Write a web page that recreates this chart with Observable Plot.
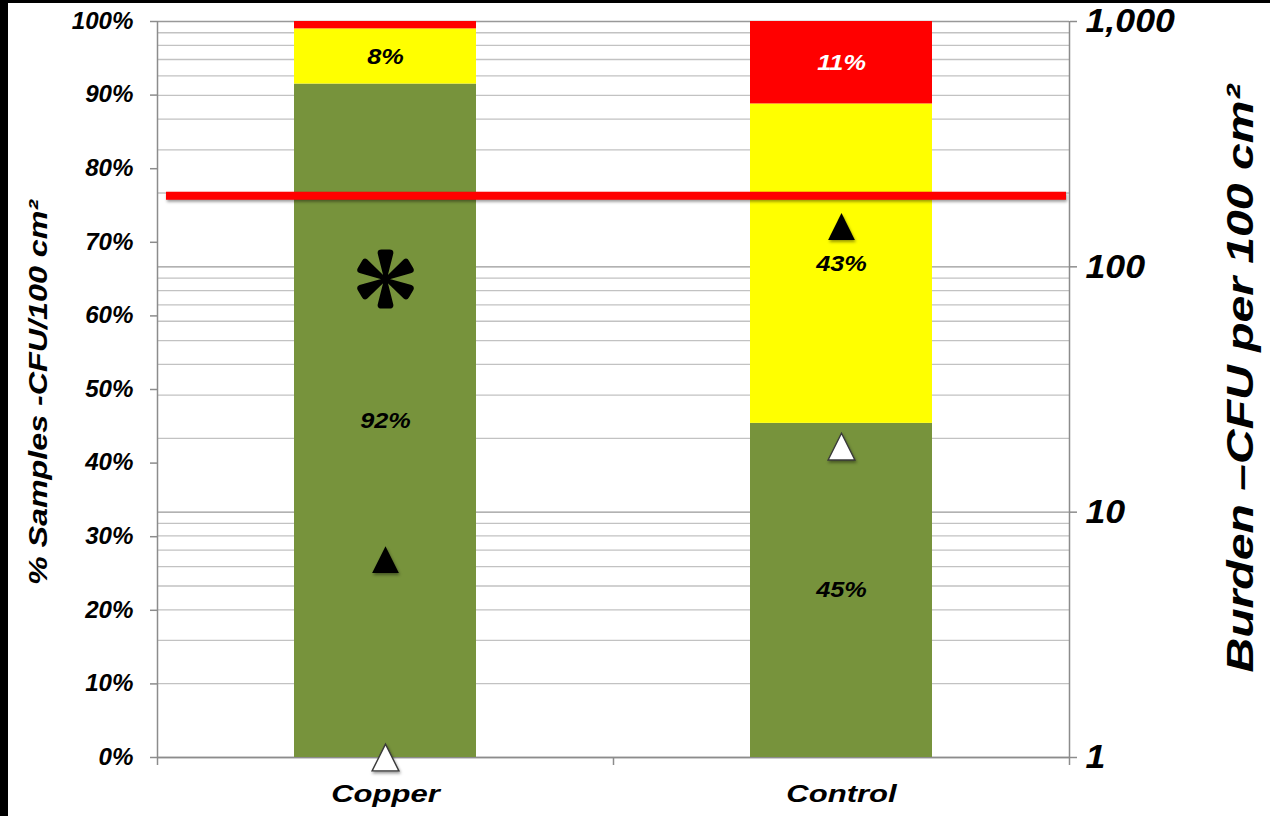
<!DOCTYPE html>
<html>
<head>
<meta charset="utf-8">
<script src="https://cdn.jsdelivr.net/npm/d3@7"></script>
<script src="https://cdn.jsdelivr.net/npm/@observablehq/plot@0.6"></script>
<style>
  html, body { margin: 0; padding: 0; background: #fff; }
  #chart { position: relative; width: 1270px; height: 816px; overflow: hidden; }
  #chart svg { position: absolute; left: 0; top: 0; }
  .edge { position: absolute; background: #000; }
</style>
</head>
<body>
<div id="chart"></div>
<script>
// Groups and burden bands
const categories = ["Copper", "Control"];
const bands = ["Low", "Moderate", "High"];
const bandColors = ["#77933C", "#FFFF00", "#FF0000"];

// % of samples in each band, bottom to top
const copperShares = [91.5, 7.5, 1.0];
const controlShares = [45.4, 43.4, 11.2];
const copperLabeled = [true, true, false];
const controlLabeled = [true, true, true];
const labelInk = ["black", "black", "white"];

// Burden markers, CFU per 100 cm² (Copper, Control)
const filledMarkers = [6.4, 146];
const openMarkers = [1, 18.5];
const threshold = 195;
const significance = [{group: "Copper", pct: 65}];

// Axis ticks
const pctTicks = [0, 10, 20, 30, 40, 50, 60, 70, 80, 90, 100];
const cfuTicks = [1, 10, 100, 1000];
const cfuMinor = [2, 3, 4, 5, 6, 7, 8, 9, 20, 30, 40, 50, 60, 70, 80, 90, 200, 300, 400, 500, 600, 700, 800, 900];
const slotEdges = [0, 1, 2];

const leftTitle = "% Samples -CFU/100 cm²";
const rightTitle = "Burden –CFU per 100 cm²";

// Tables built from the arrays above
const shares = [copperShares, controlShares];
const labeled = [copperLabeled, controlLabeled];
const table = categories.flatMap((group, g) =>
  bands.map((band, b) => ({group, band, value: shares[g][b], labeled: labeled[g][b], ink: labelInk[b]}))
);
const filled = categories.map((group, i) => ({group, cfu: filledMarkers[i]}));
const open = categories.map((group, i) => ({group, cfu: openMarkers[i]}));
const pctLabel = (v) => Math.round(v) + "%";

// Triangle centred on its bounding box
const triangle = {
  draw(context, size) {
    const r = Math.sqrt(size / Math.PI);
    const h = 2.6 * r, w = 2.6 * r;
    context.moveTo(0, -h / 2);
    context.lineTo(w / 2, h / 2);
    context.lineTo(-w / 2, h / 2);
    context.closePath();
  }
};

// Six-petal asterisk
const asterisk = {
  draw(context, size) {
    const k = Math.sqrt(size / Math.PI) / 29.5;
    for (let i = 0; i < 6; ++i) {
      const a = -Math.PI / 2 + i * Math.PI / 3;
      const ux = Math.cos(a), uy = Math.sin(a), vx = -uy, vy = ux;
      const P = (d, s) => [k * (d * ux + s * vx), k * (d * uy + s * vy)];
      context.moveTo(...P(0, -1.4));
      context.lineTo(...P(25.5, -7.8));
      context.quadraticCurveTo(...P(29.5, -8.4), ...P(29.5, -4));
      context.lineTo(...P(29.5, 4));
      context.quadraticCurveTo(...P(29.5, 8.4), ...P(25.5, 7.8));
      context.lineTo(...P(0, 1.4));
      context.closePath();
    }
  }
};

const font = "'Liberation Sans', Arial, Helvetica, sans-serif";
const common = {
  width: 1270,
  height: 816,
  marginTop: 21,
  marginRight: 201,
  marginBottom: 59,
  marginLeft: 157,
  style: {fontFamily: font, fontWeight: "bold", fontStyle: "italic", background: "transparent", color: "#000"}
};
const axisGray = "#8c8c8c";
const tag = (name) => () => name;

// Back layer: log grid, axis lines, right axis and titles
const grid = Plot.plot({
  ...common,
  x: {type: "linear", domain: [0, categories.length]},
  y: {type: "log", domain: [1, 1000]},
  marks: [
    Plot.ruleY(cfuMinor, {stroke: "#c2c2c2", strokeWidth: 1.3}),
    Plot.ruleY(cfuTicks, {stroke: "#999999", strokeWidth: 1.3}),
    Plot.ruleX([0, categories.length], {stroke: axisGray, strokeWidth: 1.5}),
    Plot.ruleY([1], {stroke: axisGray, strokeWidth: 1.6}),
    Plot.axisX(slotEdges, {tickSize: 8, tickFormat: () => "", stroke: axisGray, strokeWidth: 1.5, label: null}),
    Plot.axisY(cfuTicks, {
      anchor: "right", tickSize: 7, tickPadding: 9, tickFormat: d3.format(","),
      fontSize: 34, stroke: axisGray, strokeWidth: 1.5, fill: "#000", label: null
    }),
    Plot.text([leftTitle], {
      text: (d) => d, frameAnchor: "left", textAnchor: "middle", dx: -119, dy: 3, rotate: -90,
      fontSize: 25, fill: "#000", ariaLabel: tag("left title")
    }),
    Plot.text([rightTitle], {
      text: (d) => d, frameAnchor: "right", textAnchor: "middle", dx: 172, dy: -11, rotate: -90,
      fontSize: 37, fill: "#000", ariaLabel: tag("right title")
    })
  ]
});

// Middle layer: stacked percentage bars, their labels, left axis, groups
const bars = Plot.plot({
  ...common,
  x: {type: "band", domain: categories, paddingInner: 0.6, paddingOuter: 0.3},
  y: {domain: [0, 100]},
  color: {domain: bands, range: bandColors},
  marks: [
    Plot.barY(table, {x: "group", y: "value", fill: "band"}),
    Plot.text(table, Plot.stackY({
      x: "group", y: "value",
      text: (d) => (d.labeled && d.ink === "black" ? pctLabel(d.value) : null),
      fill: "black", fontSize: 22, ariaLabel: tag("share label")
    })),
    Plot.text(table, Plot.stackY({
      x: "group", y: "value",
      text: (d) => (d.labeled && d.ink === "white" ? pctLabel(d.value) : null),
      fill: "white", fontSize: 22, ariaLabel: tag("share label")
    })),
    Plot.dot(significance, {x: "group", y: "pct", symbol: asterisk, r: 29.5, fill: "black", stroke: null}),
    Plot.axisY(pctTicks, {
      anchor: "left", tickSize: 7, tickPadding: 17, tickFormat: (d) => d + "%",
      fontSize: 23, stroke: axisGray, strokeWidth: 1.5, fill: "#000", label: null
    }),
    Plot.axisX({tickSize: 0, tickPadding: 28, fontSize: 23, fill: "#000", label: null})
  ]
});

// Front layer: burden threshold and markers on the log scale
const markers = Plot.plot({
  ...common,
  x: {type: "band", domain: categories, paddingInner: 0.6, paddingOuter: 0.3, axis: null},
  y: {type: "log", domain: [1, 1000], axis: null},
  marks: [
    Plot.ruleY([threshold], {stroke: "#FF0000", strokeWidth: 8, insetLeft: 9, insetRight: 3, ariaLabel: tag("shadowed")}),
    Plot.dot(filled, {x: "group", y: "cfu", symbol: triangle, r: 10.3, fill: "#000", stroke: null, ariaLabel: tag("shadowed")}),
    Plot.dot(open, {x: "group", y: "cfu", symbol: triangle, r: 10.3, fill: "#fff", stroke: "#3a3a3a", strokeWidth: 1.4, ariaLabel: tag("shadowed")})
  ]
});

// Widen the lettering along its reading direction
function stretch(svg, selector, sx) {
  svg.querySelectorAll(selector).forEach((t) => {
    const tr = t.getAttribute("transform") || "";
    t.setAttribute("transform", `${tr} scale(${sx},1)`);
  });
}
stretch(grid, 'g[aria-label="y-axis tick label"] text', 1.05);
stretch(grid, 'text[aria-label="left title"]', 1.29);
stretch(grid, 'text[aria-label="right title"]', 1.3);
stretch(bars, 'g[aria-label="y-axis tick label"] text', 1.05);
stretch(bars, 'g[aria-label="x-axis tick label"] text', 1.35);
stretch(bars, 'text[aria-label="share label"]', 1.15);

// Soft shadows under the threshold line and markers
markers.querySelectorAll('[aria-label="shadowed"]').forEach((el) => {
  el.style.filter = "drop-shadow(1px 2.5px 1.5px rgba(0,0,0,0.4))";
});

const chart = document.getElementById("chart");
chart.append(grid, bars, markers);

// Dark slide edges
const edgeLeft = document.createElement("div");
edgeLeft.className = "edge";
Object.assign(edgeLeft.style, {left: "0px", top: "0px", width: "8px", height: "816px"});
const edgeTop = document.createElement("div");
edgeTop.className = "edge";
Object.assign(edgeTop.style, {left: "0px", top: "0px", width: "1270px", height: "3px"});
chart.append(edgeLeft, edgeTop);
</script>
</body>
</html>
